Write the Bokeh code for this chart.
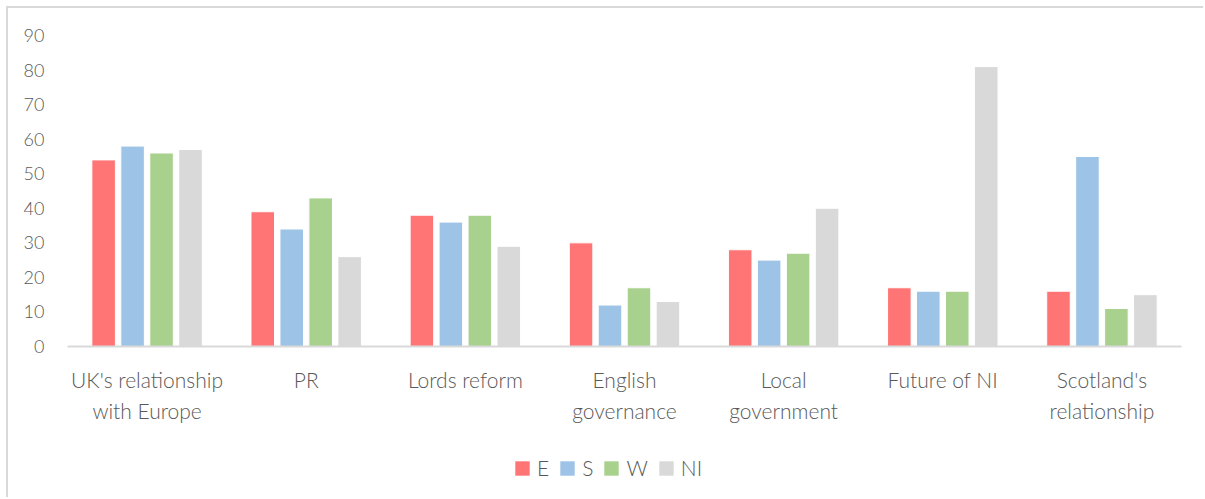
from bokeh.plotting import figure
from bokeh.models import (ColumnDataSource, Range1d, FactorRange, FixedTicker, Legend,
                          LegendItem, Spacer)
from bokeh.layouts import column, row
from bokeh.transform import dodge
from bokeh.embed import file_html
from bokeh.resources import INLINE

categories = ["UK's relationship\nwith Europe", "PR", "Lords reform", "English\ngovernance",
              "Local\ngovernment", "Future of NI", "Scotland's\nrelationship"]
series_names = ["E", "S", "W", "NI"]
E = [54, 39, 38, 30, 28, 17, 16]
S = [58, 34, 36, 12, 25, 16, 55]
W = [56, 43, 38, 17, 27, 16, 11]
NI = [57, 26, 29, 13, 40, 81, 15]
colors = ["#FF7575", "#9DC3E6", "#A9D18E", "#D9D9D9"]
y_ticks = [0, 10, 20, 30, 40, 50, 60, 70, 80, 90]

FONT = "Lato Light"
TXT = "#595959"

source = ColumnDataSource(dict(cat=categories, E=E, S=S, W=W, NI=NI))

p = figure(x_range=FactorRange(*categories), y_range=Range1d(0, 90),
           width=1197, height=432, output_backend="svg", toolbar_location=None,
           min_border_left=59, min_border_right=24, min_border_top=27, min_border_bottom=94)
p.outline_line_color = None
p.xgrid.grid_line_color = None
p.ygrid.grid_line_color = None

slot = 0.182
offsets = [-1.5 * slot, -0.5 * slot, 0.5 * slot, 1.5 * slot]
for name, col, off in zip(series_names, colors, offsets):
    p.vbar(x=dodge("cat", off, range=p.x_range), top=name, width=0.148, source=source,
           fill_color=col, line_color="white", line_width=1)

p.yaxis.ticker = FixedTicker(ticks=y_ticks)
p.yaxis.axis_line_color = None
p.yaxis.major_tick_line_color = None
p.yaxis.minor_tick_line_color = None
p.yaxis.major_label_text_font = FONT
p.yaxis.major_label_text_font_size = "18px"
p.yaxis.major_label_text_color = TXT
p.yaxis.major_label_standoff = 17

p.xaxis.axis_line_color = "#D9D9D9"
p.xaxis.axis_line_width = 2
p.xaxis.major_tick_line_color = None
p.xaxis.minor_tick_line_color = None
p.xaxis.major_label_text_font = FONT
p.xaxis.major_label_text_font_size = "21px"
p.xaxis.major_label_text_line_height = 1.25
p.xaxis.major_label_text_color = TXT
p.xaxis.major_label_standoff = 14

# legend strip: swatch-only renderers (NaN data, nothing drawn in the frame)
lg = figure(width=1197, height=59, output_backend="svg", toolbar_location=None,
            x_range=Range1d(0, 1), y_range=Range1d(0, 1),
            x_axis_location=None, y_axis_location=None,
            min_border_left=0, min_border_right=0, min_border_top=0, min_border_bottom=0)
lg.outline_line_color = None
lg.xgrid.grid_line_color = None
lg.ygrid.grid_line_color = None
nan = float("nan")
items = []
for name, col in zip(series_names, colors):
    r = lg.vbar(x=[nan], top=[nan], width=0.5, fill_color=col, line_color=None)
    items.append(LegendItem(label=name, renderers=[r]))
legend = Legend(items=items, orientation="horizontal", location=(446, 19),
                glyph_width=18, glyph_height=18, label_standoff=6, spacing=9,
                label_width=0, label_height=15,
                padding=0, margin=0, border_line_color=None, background_fill_alpha=0,
                label_text_font=FONT, label_text_font_size="21px", label_text_color=TXT)
lg.add_layout(legend, "center")

chart = column(p, lg, spacing=0)
chart.styles = {"box-shadow": "-2px -2px 0 0 #d9d9d9"}
layout = row(Spacer(width=8), column(Spacer(height=8), chart, spacing=0), spacing=0)

open("out.html", "w").write(file_html(layout, INLINE))
